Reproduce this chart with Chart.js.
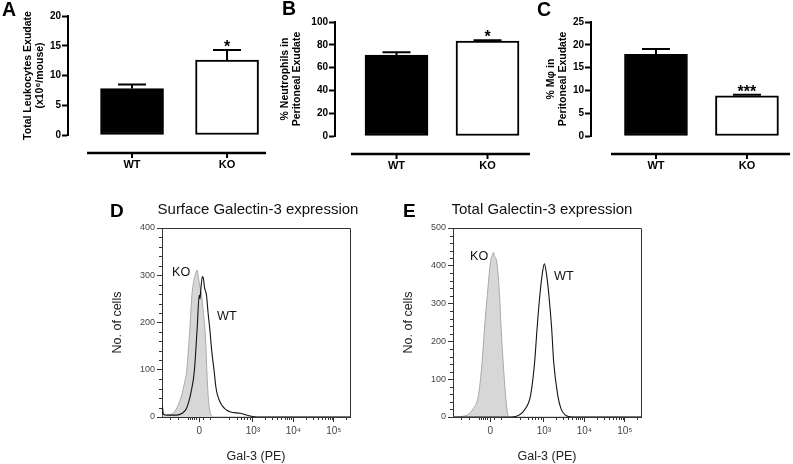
<!DOCTYPE html>
<html><head><meta charset="utf-8">
<script src="https://cdn.jsdelivr.net/npm/chart.js@4.4.1/dist/chart.umd.min.js"></script>
<style>
html,body{margin:0;padding:0;background:#fff;}
#wrap{position:relative;width:793px;height:464px;overflow:hidden;background:#fff;font-family:"Liberation Sans",Arial,sans-serif;color:#000;}
canvas{position:absolute;}
.t{position:absolute;white-space:nowrap;line-height:1;}
.letter{font-weight:bold;font-size:19.5px;}
.ttl{font-size:15px;transform:translateX(-50%);color:#111;}
.ann{font-size:12.6px;color:#111;}
</style></head><body>
<div id="wrap">
<canvas id="cA" width="270" height="175" style="left:0;top:0"></canvas>
<canvas id="cB" width="275" height="175" style="left:260px;top:0"></canvas>
<canvas id="cC" width="273" height="175" style="left:520px;top:0"></canvas>
<canvas id="cD" width="260" height="269" style="left:100px;top:195px"></canvas>
<canvas id="cE" width="261" height="269" style="left:390px;top:195px"></canvas>
<div class="t letter" style="left:2px;top:0px">A</div>
<div class="t letter" style="left:282px;top:-1px">B</div>
<div class="t letter" style="left:537px;top:0px">C</div>
<div class="t letter" style="left:110px;top:201px;font-size:19px">D</div>
<div class="t letter" style="left:403px;top:201px;font-size:19px">E</div>
<div class="t ttl" style="left:258px;top:201px">Surface Galectin-3 expression</div>
<div class="t ttl" style="left:542px;top:201px">Total Galectin-3 expression</div>
<div class="t ann" style="left:172px;top:266px">KO</div>
<div class="t ann" style="left:217px;top:310px">WT</div>
<div class="t ann" style="left:470px;top:250px">KO</div>
<div class="t ann" style="left:554px;top:269.5px">WT</div>
</div>
<script>
// ---------- data ----------
const groups = ['WT', 'KO'];
const leukocytes = [7.8, 12.6];        // x10^6 / mouse
const leukocytesSEM = [0.7, 1.7];
const leukocytesSig = ['', '*'];
const neutrophils = [71.0, 83.3];      // %
const neutrophilsSEM = [2.5, 0.8];
const neutrophilsSig = ['', '*'];
const macrophages = [17.9, 8.8];       // %
const macrophagesSEM = [1.2, 0.25];
const macrophagesSig = ['', '***'];

// flow histograms: [display position (decade units), number of cells]
const xTickValues = [1.67, 3, 4, 5];
const xTickLabels = ['0', '10³', '10⁴', '10⁵'];
const xMinorTicks = [0.95, 1.15, 1.40, 1.45, 1.50, 1.55, 1.60, 1.77, 1.94, 2.41, 2.60, 2.70, 2.78, 2.85, 2.93,
  3.30, 3.48, 3.60, 3.70, 3.78, 3.85, 3.90, 3.95, 4.30, 4.48, 4.60, 4.70, 4.78, 4.85, 4.90, 4.95, 5.30];
const surfaceKO = [[0.75,0],[0.76,18],[0.78,6],[0.85,4],[0.95,5],[1.05,10],[1.15,25],[1.24,47],[1.30,70],[1.36,97],[1.40,140],[1.44,188],[1.49,258],[1.53,285],[1.57,300],[1.62,311],[1.65,295],[1.69,275],[1.73,258],[1.77,222],[1.81,188],[1.84,140],[1.86,97],[1.89,47],[1.92,20],[1.96,5],[2.02,0],[5.4,0]];
const surfaceWT = [[0.75,0],[0.76,22],[0.78,6],[0.9,4],[1.1,4],[1.25,8],[1.36,19],[1.47,53],[1.55,97],[1.62,188],[1.67,258],[1.69,250],[1.71,270],[1.75,297],[1.78,290],[1.80,275],[1.85,258],[1.89,220],[1.93,188],[1.98,140],[2.04,97],[2.08,65],[2.12,47],[2.23,25],[2.43,11],[2.68,8],[2.93,2],[3.1,0],[5.4,0]];
const totalKO = [[0.76,0],[1.0,2],[1.10,5],[1.25,22],[1.38,58],[1.47,146],[1.53,235],[1.60,324],[1.68,412],[1.73,430],[1.75,435],[1.78,425],[1.83,412],[1.90,324],[1.94,235],[1.99,146],[2.05,58],[2.09,15],[2.13,0],[5.4,0]];
const totalWT = [[0.76,0],[2.2,0],[2.38,5],[2.54,22],[2.67,58],[2.77,146],[2.83,235],[2.90,324],[2.96,380],[3.01,405],[3.06,380],[3.12,324],[3.19,235],[3.24,146],[3.34,58],[3.42,22],[3.53,5],[3.7,0],[5.4,0]];

const FAM = '"Liberation Sans", Arial, Helvetica, sans-serif';
Chart.defaults.font.family = FAM;
Chart.defaults.color = '#000';

// ---------- bar panels ----------
const barExtras = {
  id: 'barExtras',
  afterDatasetsDraw(chart, args, opts) {
    const ctx = chart.ctx, ds = chart.data.datasets[0];
    const xs = chart.scales.x, ys = chart.scales.y, ca = chart.chartArea;
    ctx.save();
    ctx.strokeStyle = '#000'; ctx.fillStyle = '#000'; ctx.lineWidth = 2;
    ds.data.forEach((p, i) => {
      const x = xs.getPixelForValue(p.x);
      const y0 = ys.getPixelForValue(p.y);
      const y1 = ys.getPixelForValue(p.y + ds.sems[i]);
      ctx.beginPath(); ctx.moveTo(x, y0); ctx.lineTo(x, y1);
      ctx.moveTo(x - 14, y1); ctx.lineTo(x + 14, y1); ctx.stroke();
      if (ds.sigs[i]) {
        ctx.font = 'bold 16px ' + FAM; ctx.textAlign = 'center'; ctx.textBaseline = 'alphabetic';
        ctx.fillText(ds.sigs[i], x, y1 + 2);
      }
    });
    const ly = ca.bottom + opts.gap;
    ctx.lineWidth = 2.5;
    ctx.beginPath(); ctx.moveTo(ca.left + opts.start, ly); ctx.lineTo(ca.right, ly); ctx.stroke();
    ctx.lineWidth = 2;
    ds.data.forEach(p => {
      const x = xs.getPixelForValue(p.x);
      ctx.beginPath(); ctx.moveTo(x, ly); ctx.lineTo(x, ly + 5); ctx.stroke();
    });
    ctx.restore();
  }
};

function barPanel(id, values, sems, sigs, yMax, yStep, title, g) {
  const data = values.map((v, i) => ({ x: i + 1, y: v }));
  return new Chart(document.getElementById(id), {
    type: 'bar',
    data: { datasets: [{ data, sems, sigs, backgroundColor: ['#000', '#fff'], borderColor: '#000',
      borderWidth: 2, borderSkipped: false, barThickness: 63 }] },
    options: {
      responsive: false, animation: false, events: [],
      layout: { padding: { left: g.L, top: g.top, right: g.R, bottom: 0 } },
      plugins: { legend: { display: false }, tooltip: { enabled: false }, barExtras: { gap: g.gap, start: g.start } },
      scales: {
        x: { type: 'linear', offset: false, min: g.xmin, max: g.xmax,
          grid: { display: false, drawTicks: false, offset: false }, border: { display: false },
          afterBuildTicks: s => { s.ticks = groups.map((n, i) => ({ value: i + 1 })); },
          ticks: { callback: (v, i) => groups[i], font: { weight: 'bold', size: 11 }, color: '#000', padding: g.labPad, maxRotation: 0, autoSkip: false },
          afterFit: s => { s.height = g.xH; } },
        y: { min: 0, max: yMax,
          ticks: { stepSize: yStep, font: { weight: 'bold', size: 10 }, color: '#000', padding: 1 },
          grid: { drawOnChartArea: false, tickLength: 6, tickWidth: 2, tickColor: '#000' },
          border: { display: true, width: 2, color: '#000' },
          title: { display: true, text: title, font: { weight: 'bold', size: 10.5, lineHeight: 1.2 }, color: '#000', padding: { top: g.T, bottom: 0 } },
          afterFit: s => { s.width = g.yW; } }
      }
    },
    plugins: [barExtras]
  });
}

barPanel('cA', leukocytes, leukocytesSEM, leukocytesSig, 20, 5, ['Total Leukocytes Exudate', '(x10⁶/mouse)'],
  { L: 16, T: 5.7, yW: 52, top: 16, R: 4, xH: 40, xmin: 0.326, xmax: 2.41, gap: 18, start: 19, labPad: 23 });
barPanel('cB', neutrophils, neutrophilsSEM, neutrophilsSig, 100, 20, ['% Neutrophils in', 'Peritoneal Exudate'],
  { L: 14, T: 4.7, yW: 61, top: 22, R: 5, xH: 39, xmin: 0.324, xmax: 2.467, gap: 18, start: 16, labPad: 23 });
barPanel('cC', macrophages, macrophagesSEM, macrophagesSig, 25, 5, ['% Mφ in', 'Peritoneal Exudate'],
  { L: 14, T: 10.7, yW: 57, top: 22, R: 3, xH: 39, xmin: 0.286, xmax: 2.473, gap: 18, start: 20, labPad: 23 });

// ---------- flow panels ----------
const flowFrame = {
  id: 'flowFrame',
  afterDraw(chart, args, opts) {
    const ctx = chart.ctx, ca = chart.chartArea, xs = chart.scales.x, ys = chart.scales.y;
    ctx.save();
    ctx.strokeStyle = '#333'; ctx.lineWidth = 1;
    ctx.beginPath();
    ctx.moveTo(ca.left, ca.top + 0.5); ctx.lineTo(ca.right + 0.5, ca.top + 0.5); ctx.lineTo(ca.right + 0.5, ca.bottom);
    ctx.stroke();
    ctx.beginPath();
    xMinorTicks.forEach(v => {
      const x = Math.round(xs.getPixelForValue(v)) + 0.5;
      ctx.moveTo(x, ca.bottom); ctx.lineTo(x, ca.bottom + 3);
    });
    for (let v = opts.minorStep; v < ys.max; v += opts.minorStep) {
      if (v % 100 === 0) continue;
      const y = Math.round(ys.getPixelForValue(v)) + 0.5;
      ctx.moveTo(ca.left, y); ctx.lineTo(ca.left - 3, y);
    }
    ctx.stroke();
    ctx.restore();
  }
};

function flowPanel(id, ko, wt, yMax, g) {
  return new Chart(document.getElementById(id), {
    type: 'line',
    data: { datasets: [
      { label: 'WT', data: wt.map(([x, y]) => ({ x, y })), borderColor: '#151515', borderWidth: 1.1, fill: false,
        pointRadius: 0, cubicInterpolationMode: 'monotone' },
      { label: 'KO', data: ko.map(([x, y]) => ({ x, y })), borderColor: '#a9a9a9', backgroundColor: '#d7d7d7', borderWidth: 1,
        fill: 'origin', pointRadius: 0, cubicInterpolationMode: 'monotone' }
    ] },
    options: {
      responsive: false, animation: false, events: [],
      layout: { padding: { left: 8, top: 33, right: g.R, bottom: 0 } },
      plugins: { legend: { display: false }, tooltip: { enabled: false }, flowFrame: { minorStep: 20 } },
      scales: {
        x: { type: 'linear', min: 0.75, max: 5.4,
          afterBuildTicks: s => { s.ticks = xTickValues.map(v => ({ value: v })); },
          ticks: { callback: (v, i) => xTickLabels[i], font: { size: 10 }, color: '#444', padding: 3, maxRotation: 0, autoSkip: false },
          grid: { drawOnChartArea: false, tickLength: 5, tickColor: '#333' },
          border: { color: '#333', width: 1 },
          title: { display: true, text: 'Gal-3 (PE)', font: { size: 12.5 }, color: '#222', padding: 0 },
          afterFit: s => { s.height = 47; } },
        y: { min: 0, max: yMax,
          ticks: { stepSize: 100, font: { size: 9 }, color: '#444', padding: 2 },
          grid: { drawOnChartArea: false, tickLength: 5, tickColor: '#333' },
          border: { color: '#333', width: 1 },
          title: { display: true, text: 'No. of cells', font: { size: 12.5 }, color: '#222', padding: { top: g.T, bottom: 0 } },
          afterFit: s => { s.width = g.yW; } }
      }
    },
    plugins: [flowFrame]
  });
}

flowPanel('cD', surfaceKO, surfaceWT, 400, { R: 10, yW: 54, T: 2 });
flowPanel('cE', totalKO, totalWT, 500, { R: 10, yW: 55, T: 3 });
</script>
</body></html>
